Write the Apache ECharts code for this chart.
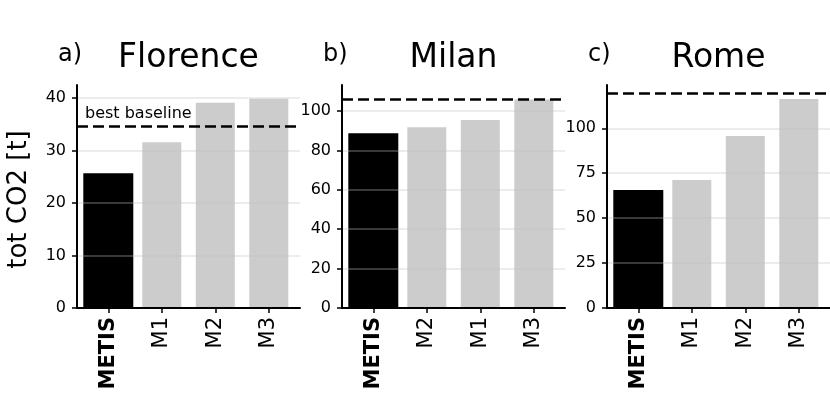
<!DOCTYPE html>
<html>
<head>
<meta charset="utf-8">
<script src="https://cdn.jsdelivr.net/npm/echarts@6/dist/echarts.min.js"></script>
<style>
  html, body { margin: 0; padding: 0; background: #fff; }
  #chart { width: 830px; height: 415px; }
</style>
</head>
<body>
<div id="chart"></div>
<script>
// panel titles
var cities = ['Florence', 'Milan', 'Rome'];
var panelTags = ['a)', 'b)', 'c)'];

// methods per panel (order as plotted)
var florenceMethods = ['METIS', 'M1', 'M2', 'M3'];
var milanMethods = ['METIS', 'M2', 'M1', 'M3'];
var romeMethods = ['METIS', 'M1', 'M2', 'M3'];

// tot CO2 [t]
var florenceValues = [25.7, 31.6, 39.1, 39.9];
var milanValues = [88.7, 91.7, 95.4, 105.9];
var romeValues = [65.7, 71.2, 95.7, 116.3];

// best baseline (dashed line)
var baselines = [34.7, 106.1, 119.5];

// y axis ticks
var florenceTicks = [0, 10, 20, 30, 40];
var milanTicks = [0, 20, 40, 60, 80, 100];
var romeTicks = [0, 25, 50, 75, 100];
var yMax = [42.5, 113.2, 124.1];

var methods = [florenceMethods, milanMethods, romeMethods];
var values = [florenceValues, milanValues, romeValues];
var ticks = [florenceTicks, milanTicks, romeTicks];

var FONT = 'DejaVu Sans';
var gridLeft = [77, 342, 607];
var gridTop = 85, gridHeight = 223, gridWidth = 223;
var xMin = -0.585, xMax = 3.583;

var chart = echarts.init(document.getElementById('chart'));

var grids = [], xAxes = [], yAxes = [], series = [], titles = [];

for (var p = 0; p < 3; p++) {
  grids.push({left: gridLeft[p], top: gridTop, width: gridWidth, height: gridHeight});

  // title padding is 5, so shift back to center over the plot
  titles.push({
    text: cities[p], left: gridLeft[p] + gridWidth / 2 - 5, top: 37, textAlign: 'center',
    textStyle: {fontFamily: FONT, fontSize: 33, fontWeight: 'normal', color: '#000'}
  });
  titles.push({
    text: panelTags[p], left: gridLeft[p] - 24, top: 38,
    textStyle: {fontFamily: FONT, fontSize: 24, fontWeight: 'normal', color: '#000'}
  });

  (function (names) {
    xAxes.push({
      type: 'value', gridIndex: p, min: xMin, max: xMax, z: 3,
      axisLine: {show: true, onZero: false, lineStyle: {color: '#000', width: 2}},
      axisTick: {show: true, customValues: [0, 1, 2, 3], length: 5, lineStyle: {color: '#000', width: 1.5}},
      axisLabel: {
        customValues: [0, 1, 2, 3], rotate: 90, margin: 9,
        fontFamily: FONT, fontSize: 21, color: '#000',
        formatter: function (v) {
          var n = names[Math.round(v)];
          return n === 'METIS' ? '{b|' + n + '}' : n;
        },
        rich: {b: {fontFamily: FONT, fontSize: 21, fontWeight: 'bold', color: '#000'}}
      },
      splitLine: {show: false}
    });
  })(methods[p]);
  // hidden twin axis for the wider black bar
  xAxes.push({type: 'value', gridIndex: p, min: xMin, max: xMax, show: false});

  yAxes.push({
    type: 'value', gridIndex: p, min: 0, max: yMax[p], z: 3,
    name: p === 0 ? 'tot CO2 [t]' : '', nameLocation: 'middle', nameGap: 45,
    nameTextStyle: {fontFamily: FONT, fontSize: 26, color: '#000', padding: [0, 6, 0, 0]},
    axisLine: {show: true, onZero: false, lineStyle: {color: '#000', width: 2}},
    axisTick: {show: true, customValues: ticks[p], length: 5, lineStyle: {color: '#000', width: 1.5}},
    axisLabel: {customValues: ticks[p], margin: 11, fontFamily: FONT, fontSize: 16, color: '#000'},
    splitLine: {show: true, lineStyle: {color: 'rgba(193,193,193,0.3)', width: 2}}
  });

  var gray = [], black = [];
  for (var i = 0; i < values[p].length; i++) {
    if (methods[p][i] === 'METIS') black.push([i, values[p][i]]);
    else gray.push([i, values[p][i]]);
  }

  series.push({
    type: 'bar', xAxisIndex: 2 * p + 1, yAxisIndex: p, barWidth: 50,
    itemStyle: {color: '#000'}, data: black, silent: true
  });
  series.push({
    type: 'bar', xAxisIndex: 2 * p, yAxisIndex: p, barWidth: 39,
    itemStyle: {color: '#cccccc'}, data: gray, silent: true,
    markLine: {
      silent: true, symbol: 'none', animation: false,
      lineStyle: {color: '#000', width: 2.6, type: [11, 5]},
      label: p === 0 ? {
        show: true, position: 'insideStartTop', distance: [8, 4], formatter: 'best baseline',
        fontFamily: FONT, fontSize: 16, color: '#000'
      } : {show: false},
      data: [{yAxis: baselines[p]}]
    }
  });
}

chart.setOption({
  animation: false,
  backgroundColor: '#fff',
  title: titles,
  grid: grids,
  xAxis: xAxes,
  yAxis: yAxes,
  series: series
});
</script>
</body>
</html>
